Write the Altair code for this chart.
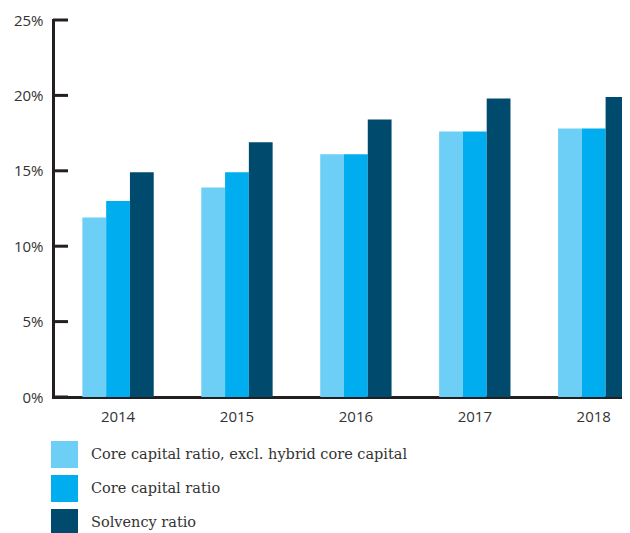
import altair as alt
import pandas as pd

years = ["2014", "2015", "2016", "2017", "2018"]
series = [
    "Core capital ratio, excl. hybrid core capital",
    "Core capital ratio",
    "Solvency ratio",
]
excl_hybrid = [11.9, 13.9, 16.1, 17.6, 17.8]
core_capital = [13.0, 14.9, 16.1, 17.6, 17.8]
solvency = [14.9, 16.9, 18.4, 19.8, 19.9]
colors = ["#6dcff6", "#00aeef", "#004b6d"]
y_ticks = [0, 5, 10, 15, 20, 25]

rows = []
for name, vals in zip(series, [excl_hybrid, core_capital, solvency]):
    for y, v in zip(years, vals):
        rows.append({"year": y, "series": name, "value": v / 100})
df = pd.DataFrame(rows)
ticks_df = pd.DataFrame({"t": [t / 100 for t in y_ticks]})

AXIS_COLOR = "#231f20"

y_scale = alt.Scale(domain=[0, 0.25])

bars = alt.Chart(df).mark_bar().encode(
    x=alt.X(
        "year:N",
        sort=years,
        scale=alt.Scale(paddingInner=0.4, paddingOuter=0.126, align=0.98),
        axis=alt.Axis(
            title=None, labelAngle=0, ticks=False, domain=True,
            domainColor=AXIS_COLOR, domainWidth=3, labelPadding=12,
            labelFont="Open Sans", labelFontSize=15, labelColor="#333333",
        ),
    ),
    xOffset=alt.XOffset("series:N", sort=series, scale=alt.Scale(paddingInner=0, paddingOuter=0)),
    y=alt.Y(
        "value:Q",
        scale=y_scale,
        axis=alt.Axis(
            title=None, values=[t / 100 for t in y_ticks], format=".0%",
            ticks=False, grid=False, domainColor=AXIS_COLOR, domainWidth=3,
            labelPadding=10, labelFont="Open Sans", labelFontSize=15,
            labelColor="#333333",
        ),
    ),
    color=alt.Color(
        "series:N",
        sort=series,
        scale=alt.Scale(domain=series, range=colors),
        legend=alt.Legend(
            title=None, orient="none", legendX=-2, legendY=421,
            direction="vertical", symbolType="square", symbolSize=729,
            symbolStrokeWidth=0, symbolOpacity=1, labelFont="DejaVu Serif",
            labelFontSize=14.5, labelColor="#333333", labelOffset=13,
            rowPadding=7, padding=0, labelLimit=500,
        ),
    ),
)

tick_rules = alt.Chart(ticks_df).mark_rule(color=AXIS_COLOR, strokeWidth=3).encode(
    x=alt.value(0),
    x2=alt.value(15),
    y=alt.Y("t:Q", scale=y_scale),
)

chart = alt.layer(bars, tick_rules).properties(
    width=577,
    height=377,
    autosize=alt.AutoSizeParams(type="none"),
    padding={"left": 45, "top": 12, "right": -8, "bottom": 150},
).configure_view(stroke=None).configure_axis(domainCap="square")

chart.save("out.html", embed_options={"renderer": "svg", "actions": False})
